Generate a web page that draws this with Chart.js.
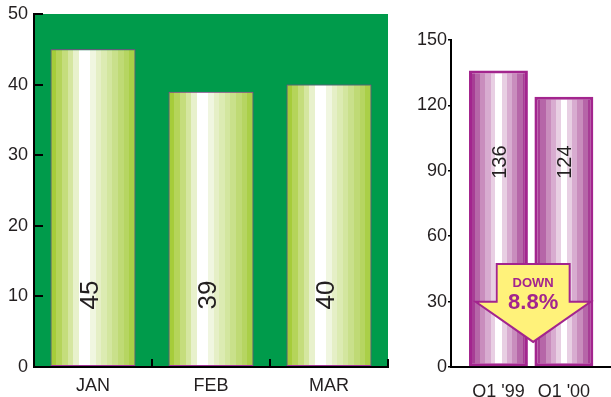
<!DOCTYPE html>
<html>
<head>
<meta charset="utf-8">
<script src="https://cdn.jsdelivr.net/npm/chart.js@4/dist/chart.umd.min.js"></script>
<style>
  body { margin: 0; background: #fff; }
  #monthly { position: absolute; left: 0; top: 0; width: 400px; height: 397px; }
  #quarter { position: absolute; left: 400px; top: 0; width: 211px; height: 397px; }
</style>
</head>
<body>
<div id="monthly"><canvas id="monthly-chart"></canvas></div>
<div id="quarter"><canvas id="quarter-chart"></canvas></div>
<script>
var months = ["JAN", "FEB", "MAR"];
var monthValues = [45, 39, 40];
var monthTicks = [0, 10, 20, 30, 40, 50];

var quarters = ["Q1 '99", "Q1 '00"];
var quarterValues = [136, 124];
var quarterTicks = [0, 30, 60, 90, 120, 150];

var changeWord = "DOWN";
var changeText = "8.8%";

var font = "'Liberation Sans', Arial, sans-serif";
var ink = "#231f20";
var purple = "#a3258e";

// stripe bands across a bar, left to right: [end fraction, colour]
var greenBands = [
  [0.07, "#a6cc3a"], [0.137, "#b5d45a"], [0.2, "#c5dd7c"], [0.267, "#d5e6a0"],
  [0.333, "#e8f1cc"], [0.46, "#ffffff"], [0.53, "#f0f6e0"], [0.594, "#e5efc6"],
  [0.66, "#dcebb2"], [0.725, "#d3e69f"], [0.8, "#c9e08b"], [0.863, "#bfda75"],
  [0.925, "#b6d562"], [1, "#aacf48"]
];
var purpleBands = [
  [0.1, "#a73d95"], [0.19, "#b666a8"], [0.28, "#c98dbd"], [0.37, "#d8acd0"],
  [0.45, "#e8cfe3"], [0.56, "#ffffff"], [0.64, "#e8cfe3"], [0.73, "#d8acd0"],
  [0.82, "#c98dbd"], [0.91, "#b666a8"], [1, "#a73d95"]
];

// hard-stop gradient spanning one bar; bar edges come from the x scale
function stripes(bands, pct, valueAt) {
  return function (ctx) {
    var chart = ctx.chart;
    var xs = chart.scales.x;
    if (!xs || !chart.chartArea) return bands[0][1];
    var step = xs.getPixelForValue(valueAt(1)) - xs.getPixelForValue(valueAt(0));
    var cx = xs.getPixelForValue(valueAt(ctx.dataIndex));
    var w = Math.abs(step) * pct;
    var g = chart.ctx.createLinearGradient(cx - w / 2, 0, cx + w / 2, 0);
    var from = 0;
    bands.forEach(function (b) {
      g.addColorStop(from, b[1]);
      g.addColorStop(b[0], b[1]);
      from = b[0];
    });
    return g;
  };
}

// keep label overhang from pushing the plot area around
function trimPadding(s) {
  s.paddingTop = 8;
  s.paddingBottom = 8;
}

var greenArea = {
  id: "greenArea",
  beforeDraw: function (chart) {
    var a = chart.chartArea;
    chart.ctx.save();
    chart.ctx.fillStyle = "#009b4b";
    chart.ctx.fillRect(a.left, a.top, a.right - a.left, a.bottom - a.top);
    chart.ctx.restore();
  }
};

// rotated value written inside each bar
function barValues(level, size, nudge) {
  return {
    id: "barValues",
    afterDatasetsDraw: function (chart) {
      var c = chart.ctx;
      var ys = chart.scales.y;
      var meta = chart.getDatasetMeta(0);
      var data = chart.data.datasets[0].data;
      c.save();
      c.fillStyle = ink;
      c.font = size + "px " + font;
      c.textAlign = "center";
      c.textBaseline = "middle";
      meta.data.forEach(function (bar, i) {
        var v = typeof data[i] === "object" ? data[i].y : data[i];
        c.save();
        c.translate(bar.x + nudge, ys.getPixelForValue(level));
        c.rotate(-Math.PI / 2);
        c.fillText(String(v), 0, 0);
        c.restore();
      });
      c.restore();
    }
  };
}

var downArrow = {
  id: "downArrow",
  afterDatasetsDraw: function (chart) {
    var c = chart.ctx;
    var xs = chart.scales.x, ys = chart.scales.y;
    var cx = xs.getPixelForValue(1.5) + 2;
    var top = ys.getPixelForValue(47.3);
    var shoulder = ys.getPixelForValue(29.9);
    var tip = ys.getPixelForValue(11.5);
    var shaft = 36.5, head = 57.5;
    c.save();
    c.beginPath();
    c.moveTo(cx - shaft, top);
    c.lineTo(cx + shaft, top);
    c.lineTo(cx + shaft, shoulder);
    c.lineTo(cx + head, shoulder);
    c.lineTo(cx, tip);
    c.lineTo(cx - head, shoulder);
    c.lineTo(cx - shaft, shoulder);
    c.closePath();
    c.fillStyle = "#fff27a";
    c.fill();
    c.lineWidth = 2;
    c.strokeStyle = purple;
    c.stroke();
    c.fillStyle = purple;
    c.textAlign = "center";
    c.textBaseline = "middle";
    c.font = "bold 13px " + font;
    c.fillText(changeWord, cx, top + 20);
    c.font = "bold 22px " + font;
    c.fillText(changeText, cx, top + 39);
    c.restore();
  }
};

Chart.defaults.font.family = font;
Chart.defaults.color = ink;

var monthlyChart = new Chart(document.getElementById("monthly-chart"), {
  type: "bar",
  data: {
    labels: months,
    datasets: [{
      data: monthValues,
      backgroundColor: stripes(greenBands, 0.72, function (i) { return i; }),
      borderColor: "#a2329a",
      borderWidth: 1,
      borderSkipped: false,
      barPercentage: 0.72,
      categoryPercentage: 1
    }]
  },
  options: {
    responsive: true,
    maintainAspectRatio: false,
    animation: false,
    layout: { padding: { top: 14, right: 12, left: 0, bottom: 0 } },
    plugins: { legend: { display: false }, tooltip: { enabled: false } },
    scales: {
      x: {
        afterFit: function (s) { s.height = 30; },
        grid: { drawOnChartArea: false, color: "#000", lineWidth: 2, tickLength: -8, offset: true },
        border: { color: "#000", width: 2 },
        ticks: { font: { size: 18 }, padding: 16, color: ink }
      },
      y: {
        min: 0,
        max: 50,
        afterFit: function (s) { s.width = 34; trimPadding(s); },
        afterBuildTicks: function (s) { s.ticks = monthTicks.map(function (v) { return { value: v }; }); },
        grid: { drawOnChartArea: false, color: "#000", lineWidth: 2, tickLength: -9 },
        border: { color: "#000", width: 2 },
        ticks: { font: { size: 18 }, padding: 15, color: ink }
      }
    }
  },
  plugins: [greenArea, barValues(10.2, 26, -2)]
});

var quarterChart = new Chart(document.getElementById("quarter-chart"), {
  type: "bar",
  data: {
    datasets: [{
      data: quarterValues.map(function (v, i) { return { x: i + 1, y: v }; }),
      backgroundColor: stripes(purpleBands, 0.9, function (i) { return i + 1; }),
      borderColor: purple,
      borderWidth: 3,
      borderSkipped: false,
      barPercentage: 0.9,
      categoryPercentage: 1
    }]
  },
  options: {
    responsive: true,
    maintainAspectRatio: false,
    animation: false,
    layout: { padding: { top: 40, right: 0, left: 0, bottom: 0 } },
    plugins: { legend: { display: false }, tooltip: { enabled: false } },
    scales: {
      x: {
        type: "linear",
        min: 0.275,
        max: 2.72,
        offset: false,
        afterFit: function (s) { s.height = 30; },
        afterBuildTicks: function (s) { s.ticks = quarters.map(function (q, i) { return { value: i + 1 }; }); },
        grid: { display: false, offset: false },
        border: { color: "#000", width: 2 },
        ticks: {
          font: { size: 18 },
          padding: 6,
          color: ink,
          callback: function (v) { return quarters[v - 1]; }
        }
      },
      y: {
        min: 0,
        max: 150,
        afterFit: function (s) { s.width = 51; },
        afterBuildTicks: function (s) { s.ticks = quarterTicks.map(function (v) { return { value: v }; }); },
        grid: { drawOnChartArea: false, color: "#000", lineWidth: 1.5, tickLength: 3 },
        border: { color: "#000", width: 2 },
        ticks: { font: { size: 18 }, padding: 1, color: ink }
      }
    }
  },
  plugins: [barValues(94, 20, 2), downArrow]
});
</script>
</body>
</html>
